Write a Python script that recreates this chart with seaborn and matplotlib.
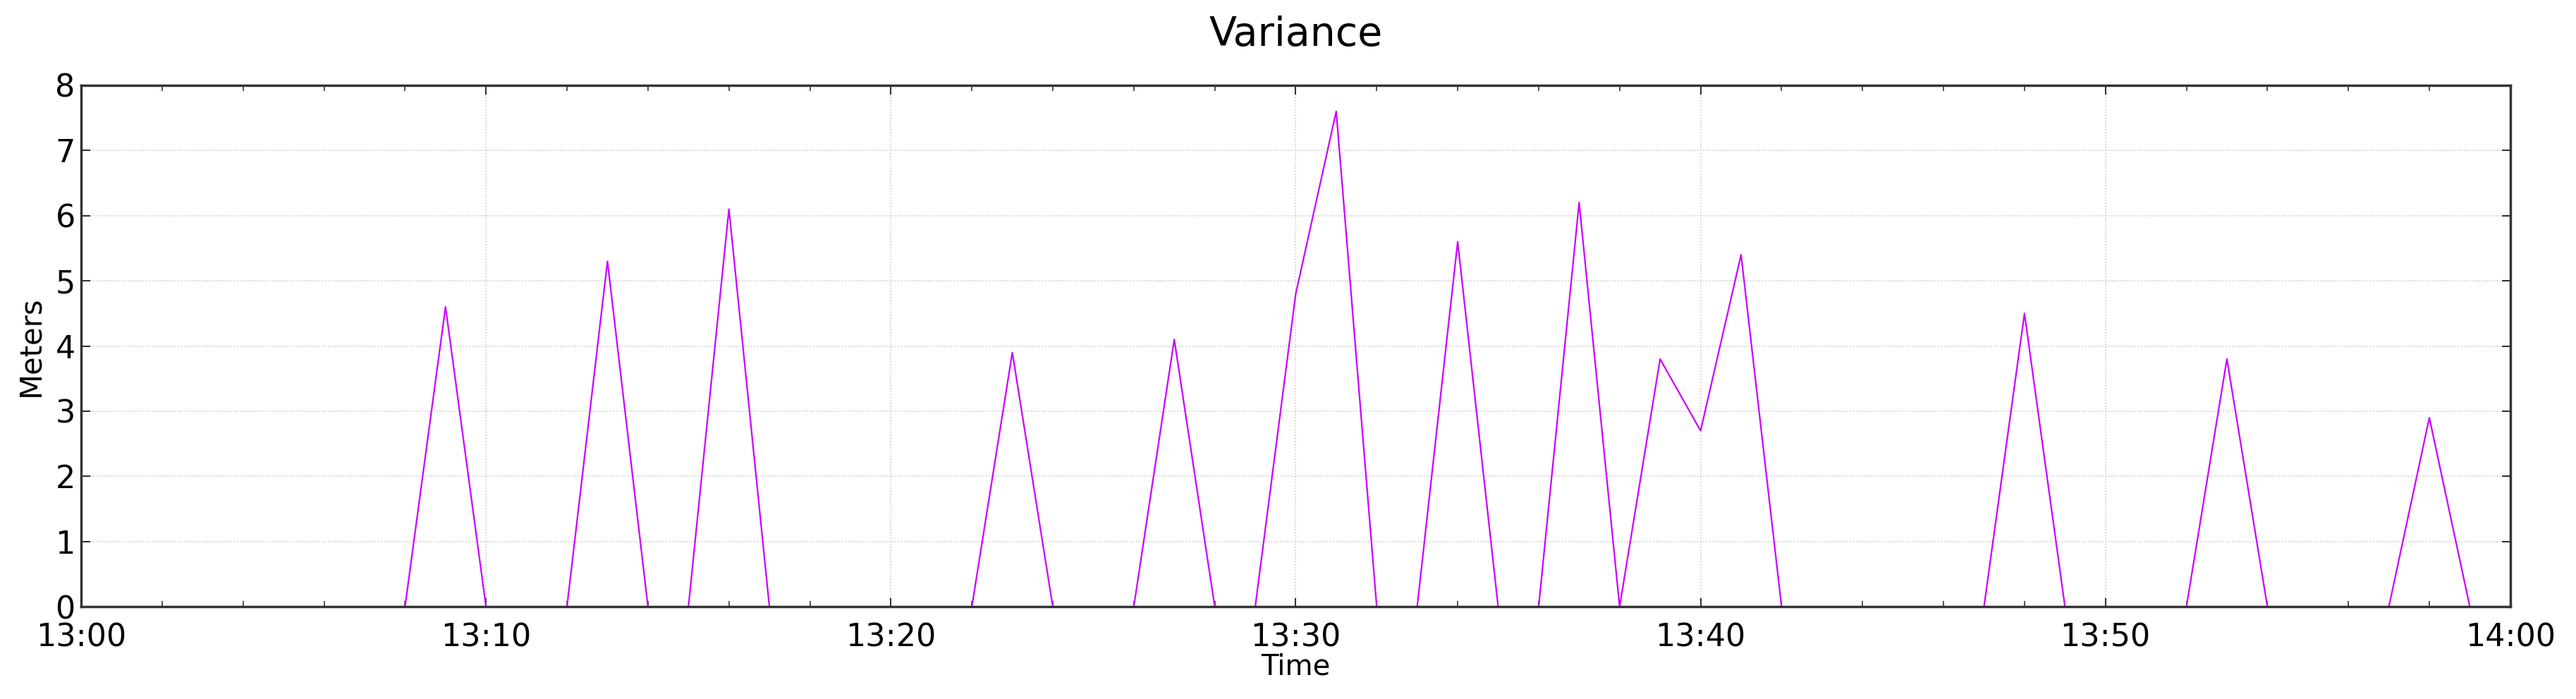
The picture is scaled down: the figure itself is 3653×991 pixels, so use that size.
import numpy as np
import pandas as pd
import matplotlib
matplotlib.use("Agg")
import matplotlib.pyplot as plt
import matplotlib.dates as mdates
import seaborn as sns

# Data: per-minute variance (meters), 13:00 .. 14:00
peak_minutes = [9, 13, 16, 23, 27, 30, 31, 34, 37, 39, 40, 41, 48, 53, 58]
peak_values = [4.6, 5.3, 6.1, 3.9, 4.1, 4.8, 7.6, 5.6, 6.2, 3.8, 2.7, 5.4, 4.5, 3.8, 2.9]
minutes = list(range(0, 61))
values = [0.0] * len(minutes)
for m, v in zip(peak_minutes, peak_values):
    values[m] = v

title = "Variance"
xlabel = "Time"
ylabel = "Meters"

times = pd.Timestamp("2020-01-01 13:00") + pd.to_timedelta(minutes, unit="m")
df = pd.DataFrame({"time": times, "value": values})

sns.set_theme(style="white")
plt.rcParams['font.family'] = ['DejaVu Sans']
plt.rcParams['text.color'] = 'black'
plt.rcParams['axes.labelcolor'] = 'black'
plt.rcParams['xtick.color'] = 'black'
plt.rcParams['ytick.color'] = 'black'

fig = plt.figure(figsize=(36.53, 9.91), dpi=100)
ax = fig.add_axes([0.0315, 0.132, 0.943, 0.746])

sns.lineplot(data=df, x="time", y="value", ax=ax, color="#cc00ff", linewidth=1.6)

ax.set_xlim(times[0], times[-1])
ax.set_ylim(0, 8)
ax.set_yticks(range(0, 9))

ax.xaxis.set_major_locator(mdates.MinuteLocator(byminute=range(0, 60, 10)))
ax.xaxis.set_minor_locator(mdates.MinuteLocator(byminute=range(0, 60, 2)))
ax.xaxis.set_major_formatter(mdates.DateFormatter("%H:%M"))

ax.grid(True, which="major", axis="both", color="#cccccc", linestyle=(0, (1, 1.5)), linewidth=1.2)
ax.tick_params(axis="both", which="both", direction="in", top=True, right=True,
               bottom=True, left=True, color="#333333", labelcolor="black")
ax.tick_params(axis="both", which="major", length=9, width=1.5, labelsize=32)
ax.tick_params(axis="y", which="major", pad=6)
ax.tick_params(axis="x", which="major", pad=16)
ax.tick_params(axis="both", which="minor", length=6, width=1.2)

for s in ax.spines.values():
    s.set_visible(True)
    s.set_color("#333333")
    s.set_linewidth(2.5)

ax.set_xlabel(xlabel, fontsize=29, labelpad=0)
ax.set_ylabel(ylabel, fontsize=30, labelpad=10)
ax.set_title(title, fontsize=41, pad=40)

fig.savefig("out.png", dpi=100, facecolor="white")
